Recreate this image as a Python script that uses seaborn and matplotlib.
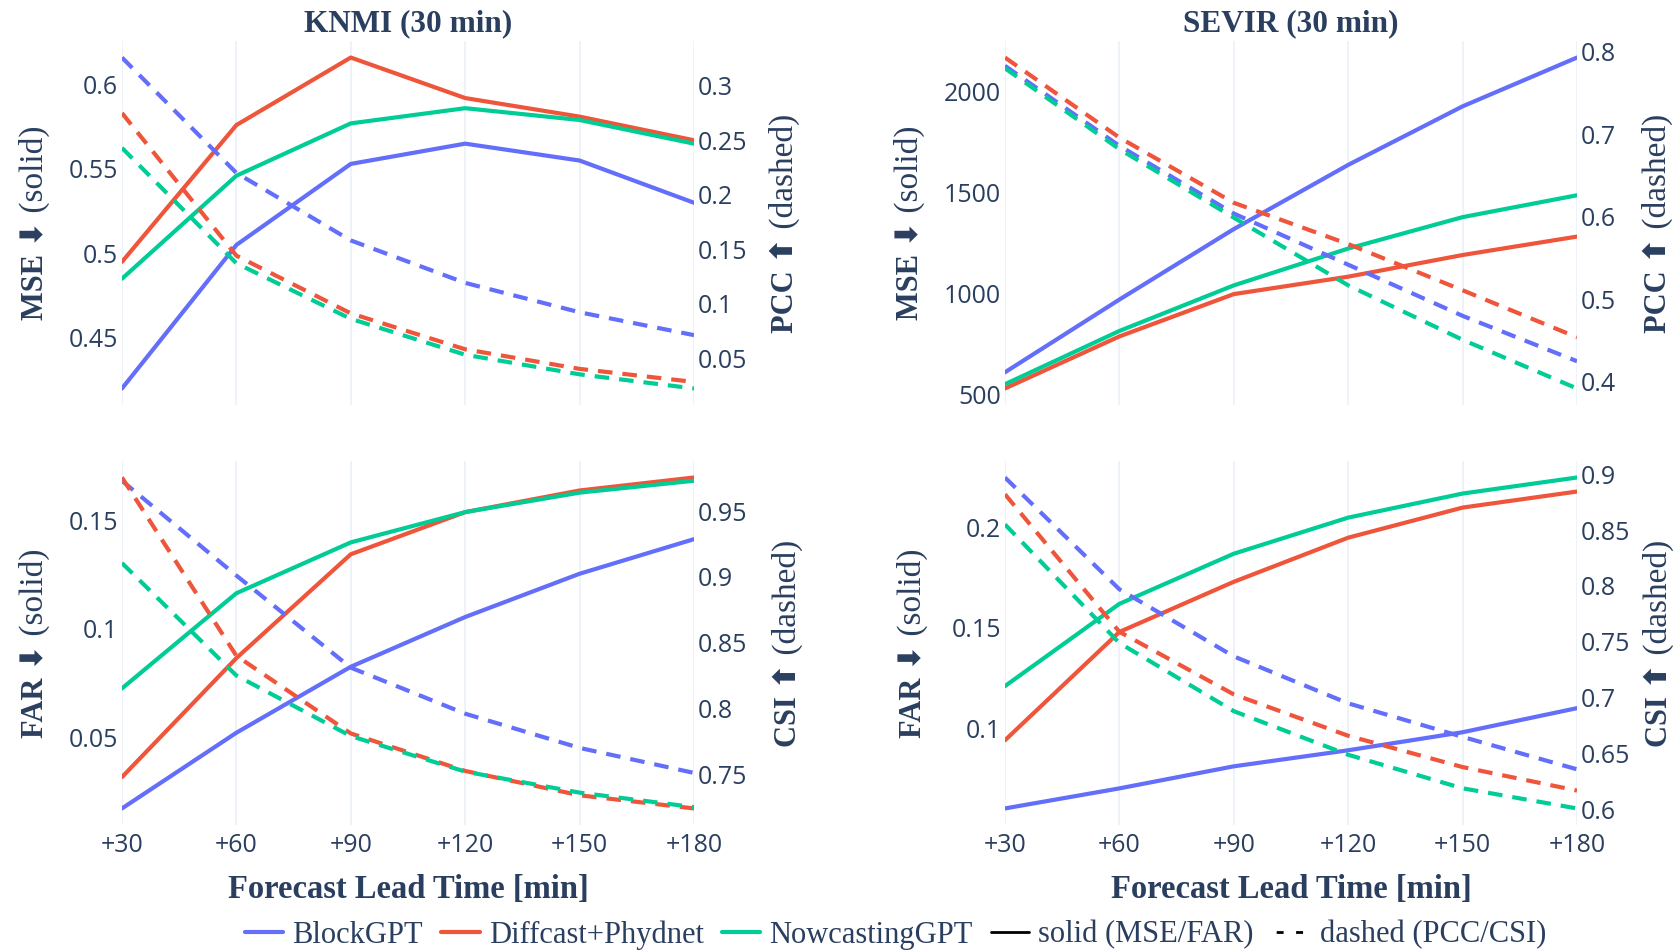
import matplotlib
matplotlib.use("Agg")
import matplotlib.pyplot as plt
from matplotlib.lines import Line2D
import pandas as pd
import seaborn as sns

# Lead times and models
lead = [30, 60, 90, 120, 150, 180]
lead_labels = ["+30", "+60", "+90", "+120", "+150", "+180"]
models = ["BlockGPT", "Diffcast+Phydnet", "NowcastingGPT"]
colors = ["#636efa", "#ef553b", "#00cc96"]

# KNMI (rows follow models)
knmi_mse = [[0.420, 0.505, 0.553, 0.565, 0.555, 0.530],
            [0.495, 0.576, 0.616, 0.592, 0.581, 0.567],
            [0.485, 0.546, 0.577, 0.586, 0.579, 0.565]]
knmi_pcc = [[0.326, 0.220, 0.158, 0.119, 0.092, 0.071],
            [0.275, 0.144, 0.091, 0.058, 0.040, 0.028],
            [0.243, 0.137, 0.086, 0.053, 0.035, 0.022]]
knmi_far = [[0.017, 0.052, 0.0825, 0.1055, 0.1255, 0.1415],
            [0.0315, 0.0865, 0.1345, 0.154, 0.164, 0.170],
            [0.0725, 0.1165, 0.140, 0.154, 0.163, 0.1685]]
knmi_csi = [[0.973, 0.901, 0.831, 0.796, 0.770, 0.751],
            [0.9755, 0.840, 0.781, 0.7525, 0.734, 0.724],
            [0.9105, 0.825, 0.779, 0.752, 0.736, 0.725]]

# SEVIR
sevir_mse = [[612, 971, 1319, 1636, 1925, 2166],
             [532, 789, 998, 1084, 1191, 1282],
             [553, 816, 1041, 1223, 1378, 1486]]
sevir_pcc = [[0.783, 0.686, 0.604, 0.542, 0.480, 0.425],
             [0.793, 0.696, 0.617, 0.567, 0.511, 0.454],
             [0.780, 0.682, 0.599, 0.517, 0.451, 0.392]]
sevir_far = [[0.060, 0.070, 0.081, 0.089, 0.098, 0.110],
             [0.094, 0.148, 0.173, 0.195, 0.210, 0.218],
             [0.121, 0.162, 0.187, 0.205, 0.217, 0.225]]
sevir_csi = [[0.897, 0.797, 0.737, 0.695, 0.665, 0.636],
             [0.882, 0.759, 0.703, 0.666, 0.638, 0.617],
             [0.855, 0.749, 0.688, 0.649, 0.619, 0.601]]

# Tick values per axis
knmi_mse_ticks = [0.45, 0.5, 0.55, 0.6]
knmi_pcc_ticks = [0.05, 0.1, 0.15, 0.2, 0.25, 0.3]
knmi_far_ticks = [0.05, 0.1, 0.15]
knmi_csi_ticks = [0.75, 0.8, 0.85, 0.9, 0.95]
sevir_mse_ticks = [500, 1000, 1500, 2000]
sevir_pcc_ticks = [0.4, 0.5, 0.6, 0.7, 0.8]
sevir_far_ticks = [0.1, 0.15, 0.2]
sevir_csi_ticks = [0.6, 0.65, 0.7, 0.75, 0.8, 0.85, 0.9]

TXT = "#2a3f5f"
GRID = "#ebf0f8"
SERIF = ["Liberation Serif", "DejaVu Sans"]
LW = 3.0

sns.set_theme(style="white")
plt.rcParams["font.family"] = ["Open Sans", "DejaVu Sans"]


def long_df(values):
    return pd.DataFrame({
        "lead": lead * len(models),
        "model": [m for m in models for _ in lead],
        "value": [v for row in values for v in row],
    })


def style_axis(a, ticks):
    a.set_yticks(ticks, [f"{t:g}" for t in ticks])
    a.tick_params(axis="y", length=0, pad=3, labelsize=18, labelcolor=TXT)
    a.tick_params(axis="x", length=0, pad=6, labelsize=18, labelcolor=TXT)
    for s in a.spines.values():
        s.set_visible(False)
    a.set_xlabel("")
    a.set_ylabel("")


def split_label(ax, x, bold, regular):
    t1 = ax.text(x, 0.5, bold, transform=ax.transAxes, rotation=90,
                 rotation_mode="anchor", ha="right", va="baseline",
                 fontsize=22, fontweight="bold", family=SERIF, color=TXT)
    t2 = ax.text(x, 0.5, " " + regular, transform=ax.transAxes, rotation=90,
                 rotation_mode="anchor", ha="left", va="baseline",
                 fontsize=24, family=SERIF, color=TXT)
    return ax, t1, t2


fig = plt.figure(figsize=(16.8, 9.51), dpi=100)

panels = [
    # rect, solid, dashed, left ticks, right ticks, labels, title, label x, has x ticks
    ([0.0726, 0.5741, 0.3405, 0.3828], knmi_mse, knmi_pcc, knmi_mse_ticks, knmi_pcc_ticks,
     ("MSE ⬇", "(solid)"), ("PCC ⬆", "(dashed)"), "KNMI (30 min)", (-0.138, 1.173), False),
    ([0.5982, 0.5741, 0.3405, 0.3828], sevir_mse, sevir_pcc, sevir_mse_ticks, sevir_pcc_ticks,
     ("MSE ⬇", "(solid)"), ("PCC ⬆", "(dashed)"), "SEVIR (30 min)", (-0.152, 1.156), False),
    ([0.0726, 0.1325, 0.3405, 0.3828], knmi_far, knmi_csi, knmi_far_ticks, knmi_csi_ticks,
     ("FAR ⬇", "(solid)"), ("CSI ⬆", "(dashed)"), None, (-0.138, 1.178), True),
    ([0.5982, 0.1325, 0.3405, 0.3828], sevir_far, sevir_csi, sevir_far_ticks, sevir_csi_ticks,
     ("FAR ⬇", "(solid)"), ("CSI ⬆", "(dashed)"), None, (-0.147, 1.157), True),
]

labels_to_fix = []
for rect, solid, dashed, lt, rt, llab, rlab, title, lx, bottom in panels:
    ax = fig.add_axes(rect)
    sns.lineplot(data=long_df(solid), x="lead", y="value", hue="model",
                 hue_order=models, palette=colors, linewidth=LW,
                 legend=False, errorbar=None, ax=ax)
    ax2 = ax.twinx()
    sns.lineplot(data=long_df(dashed), x="lead", y="value", hue="model",
                 hue_order=models, palette=colors, linewidth=LW,
                 legend=False, errorbar=None, ax=ax2)
    for ln in ax2.lines:
        ln.set_dashes((3.5, 2.4))

    ax.set_xlim(30, 180)
    ax.set_xticks(lead, lead_labels if bottom else [])
    ax.grid(axis="x", color=GRID, linewidth=1.2)
    ax.grid(axis="y", visible=False)
    ax2.grid(False)
    style_axis(ax, lt)
    style_axis(ax2, rt)

    if title:
        ax.text(0.5, 1.048, title, transform=ax.transAxes, ha="center", va="center",
                fontsize=22.5, fontweight="bold", family=SERIF, color=TXT)
    if bottom:
        ax.text(0.5, -0.178, "Forecast Lead Time [min]", transform=ax.transAxes,
                ha="center", va="center", fontsize=23.5, fontweight="bold",
                family=SERIF, color=TXT)

    labels_to_fix.append(split_label(ax, lx[0], *llab))
    labels_to_fix.append(split_label(ax, lx[1], *rlab))

# centre the two-part axis titles along the axis
fig.canvas.draw()
r = fig.canvas.get_renderer()
for ax, t1, t2 in labels_to_fix:
    axh = ax.get_window_extent(r).height
    h1 = t1.get_window_extent(r).height / axh
    h2 = t2.get_window_extent(r).height / axh
    y0 = 0.5 - (h2 - h1) / 2
    t1.set_y(y0)
    t2.set_y(y0)

handles = [Line2D([], [], color=c, linewidth=3) for c in colors]
handles += [Line2D([], [], color="black", linewidth=2),
            Line2D([], [], color="black", linewidth=2, dashes=(0, 1.5, 2.5, 4.5, 2.5, 9))]
names = models + ["solid (MSE/FAR)", "dashed (PCC/CSI)"]
fig.legend(handles, names, loc="center", bbox_to_anchor=(0.533, 0.017), ncol=5,
           frameon=False, prop={"family": "Liberation Serif", "size": 22},
           handlelength=1.25, handletextpad=0.3, columnspacing=0.6, labelcolor=TXT)

fig.savefig("out.png", dpi=100, facecolor="white")
